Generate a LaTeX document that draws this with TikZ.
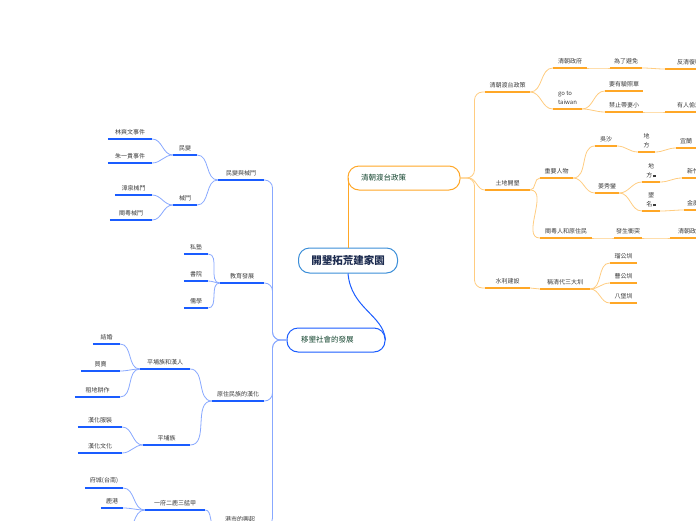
\documentclass[tikz,border=0pt]{standalone}
\usepackage{fontspec}
\setmainfont{Noto Sans CJK TC}
\usepackage{tikz}
\usetikzlibrary{calc}
\definecolor{MapOrange}{HTML}{FFA726}
\definecolor{MapOrangeSoft}{HTML}{FFCC80}
\definecolor{MapBlue}{HTML}{1A5CFF}
\definecolor{MapBlueSoft}{HTML}{88A8FF}
\definecolor{MapRoot}{HTML}{3B8ED8}
\definecolor{MapInk}{HTML}{3A3A3A}
\definecolor{MapGreen}{HTML}{14452F}
\definecolor{MapNavy}{HTML}{1C2B4F}
\tikzset{
  rootbox/.style={draw=MapRoot,line width=1pt,fill=white,rounded corners=11pt,
        minimum width=99pt,minimum height=25pt,text=MapNavy,
        font=\fontsize{10.5}{12}\selectfont\bfseries},
  mainbox/.style={fill=white,line width=1pt,rounded corners=11pt,minimum height=24pt,
        align=left,inner xsep=13pt,text=MapGreen,font=\fontsize{7.5}{9}\selectfont},
  topic/.style={anchor=south,inner xsep=0pt,inner ysep=4pt,align=center,
        text=MapInk,font=\fontsize{6}{9}\selectfont},
  oline/.style={draw=MapOrange,line width=1.6pt},
  bline/.style={draw=MapBlue,line width=1.6pt},
  olink/.style={draw=MapOrangeSoft,line width=0.8pt},
  blink/.style={draw=MapBlueSoft,line width=0.8pt},
  rcurve/.style={out=0,in=180},
  lcurve/.style={out=180,in=0}
}
\newcommand{\noteicon}{\,\rule{2.4pt}{2.4pt}}

\begin{document}
\begin{tikzpicture}[x=1pt,y=-1pt]
  \clip (0,0) rectangle (696,520);
  \node[rootbox] (root) at (348,260.5) {開墾拓荒建家園};
  \node[mainbox,draw=MapOrange,text width=86pt] (qing) at (404,178) {清朝渡台政策};
  \node[mainbox,draw=MapBlue,text width=70pt,inner xsep=14pt] (yk) at (336,340) {移墾社會的發展};

  % right side
  \node[topic,minimum width=45pt] (qzc) at (507.5,92) {清朝渡台政策};
  \node[topic,minimum width=45pt] (tdk) at (507.5,190) {土地開墾};
  \node[topic,minimum width=45pt] (slj) at (507.5,288) {水利建設};
  \node[topic,minimum width=34pt] (qzf) at (570,68) {清朝政府};
  \node[topic,minimum width=29pt,align=left] (gtt) at (567.5,109) {go to\\taiwan};
  \node[topic,minimum width=32pt] (wlbm) at (626,68) {為了避免};
  \node[topic,minimum width=48pt] (fqfm) at (689,69) {反清復明};
  \node[topic,minimum width=38pt] (yyzd) at (624,91) {要有驗照單};
  \node[topic,minimum width=38pt] (jzdq) at (624,112) {禁止帶妻小};
  \node[topic,minimum width=48pt] (yrtd) at (689,112) {有人偷渡};
  \node[topic,minimum width=33pt] (zyrw) at (556.5,178) {重要人物};
  \node[topic,minimum width=52pt] (myr) at (566,238) {閩粵人和原住民};
  \node[topic,minimum width=22pt] (ws) at (606,146) {吳沙};
  \node[topic,minimum width=24pt] (jxl) at (607,193) {姜秀鑾};
  \node[topic,minimum width=17pt] (df1) at (646.5,152) {地\\方};
  \node[topic,minimum width=20pt] (yl) at (686,148) {宜蘭};
  \node[topic,minimum width=18pt] (df2) at (651,182) {地\\方\noteicon};
  \node[topic,minimum width=22pt] (xz) at (693,178) {新竹};
  \node[topic,minimum width=18pt] (km) at (651,211) {墾\\名\noteicon};
  \node[topic,minimum width=24pt] (jgf) at (696,210) {金廣福};
  \node[topic,minimum width=28pt] (fsct) at (628,238) {發生衝突};
  \node[topic,minimum width=40pt] (qzf2) at (690,238) {清朝政府};
  \node[topic,minimum width=50pt] (cqd) at (565,289) {稱清代三大圳};
  \node[topic,minimum width=27pt] (lgz) at (623.5,263) {瑠公圳};
  \node[topic,minimum width=27pt] (cgz) at (623.5,283) {曹公圳};
  \node[topic,minimum width=27pt] (bbz) at (623.5,303) {八堡圳};

  % left side
  \node[topic,minimum width=46pt] (mbxd) at (241,180) {民變與械鬥};
  \node[topic,minimum width=44pt] (jyfz) at (242,283) {教育發展};
  \node[topic,minimum width=52pt] (yzmh) at (238,401) {原住民族的漢化};
  \node[topic,minimum width=48pt] (gsxq) at (240,526) {港市的興起};
  \node[topic,minimum width=24pt] (mb) at (185,155) {民變};
  \node[topic,minimum width=24pt] (xd) at (185,205) {械鬥};
  \node[topic,minimum width=44pt] (lsw) at (130,139) {林爽文事件};
  \node[topic,minimum width=44pt] (zyg) at (130,163) {朱一貴事件};
  \node[topic,minimum width=37pt] (zqxd) at (133.5,195) {漳泉械鬥};
  \node[topic,minimum width=42pt] (myxd) at (131,220) {閩粵械鬥};
  \node[topic,minimum width=24pt] (ss) at (196,254) {私塾};
  \node[topic,minimum width=24pt] (sy) at (196,281) {書院};
  \node[topic,minimum width=24pt] (rx) at (196,308) {儒學};
  \node[topic,minimum width=50pt] (pphr) at (165,369) {平埔族和漢人};
  \node[topic,minimum width=47pt] (ppz) at (166.5,445) {平埔族};
  \node[topic,minimum width=27pt] (jh) at (106.5,344) {結婚};
  \node[topic,minimum width=39pt] (mm) at (100.5,371) {買賣};
  \node[topic,minimum width=45pt] (zdgz) at (97.5,397) {租地耕作};
  \node[topic,minimum width=44pt] (hhfz) at (100,427) {漢化服裝};
  \node[topic,minimum width=44pt] (hhwh) at (100,453) {漢化文化};
  \node[topic,minimum width=60pt] (yfer) at (175,510) {一府二鹿三艋甲};
  \node[topic,minimum width=38pt] (fc) at (104,488) {府城(台南)};
  \node[topic,minimum width=22pt] (lg) at (112,508) {鹿港};
  \node[topic,minimum width=45pt] (mj) at (100,534) {艋舺(台北萬華)};

  \draw[draw=MapOrange,line width=1pt] (root.north) -- (root.north |- qing.center);
  \draw[draw=MapBlue,line width=1pt] (root.south) .. controls +(3,35) and +(-2,-25) .. (yk.east);

  \foreach \b in {qzc,slj}
    \draw[olink,rounded corners=8pt] (qing.east) -- ++(14,0) |- (\b.south west);
  \draw[olink] (qing.east) -- ++(8,0) to[rcurve] (tdk.south west);
  \foreach \a/\b in {qzc/qzf,qzc/gtt,qzf/wlbm,wlbm/fqfm,gtt/yyzd,gtt/jzdq,jzdq/yrtd,
                     tdk/zyrw,tdk/myr,zyrw/ws,zyrw/jxl,ws/df1,df1/yl,jxl/df2,jxl/km,
                     df2/xz,km/jgf,myr/fsct,fsct/qzf2,slj/cqd,cqd/lgz,cqd/cgz,cqd/bbz}
    \draw[olink] (\a.south east) to[rcurve] (\b.south west);

  \foreach \b in {mbxd,jyfz,yzmh,gsxq}
    \draw[blink,rounded corners=8pt] (yk.west) -- ++(-14,0) |- (\b.south east);
  \foreach \a/\b in {mbxd/mb,mbxd/xd,mb/lsw,mb/zyg,xd/zqxd,xd/myxd,jyfz/ss,jyfz/sy,
                     jyfz/rx,yzmh/pphr,yzmh/ppz,pphr/jh,pphr/mm,pphr/zdgz,ppz/hhfz,
                     ppz/hhwh,gsxq/yfer,yfer/fc,yfer/lg,yfer/mj}
    \draw[blink] (\a.south west) to[lcurve] (\b.south east);

  \foreach \n in {qzc,tdk,slj,qzf,gtt,wlbm,fqfm,yyzd,jzdq,yrtd,zyrw,myr,ws,jxl,
                  df1,yl,df2,xz,km,jgf,fsct,qzf2,cqd,lgz,cgz,bbz}
    \draw[oline] (\n.south west) -- (\n.south east);
  \foreach \n in {mbxd,jyfz,yzmh,gsxq,mb,xd,lsw,zyg,zqxd,myxd,ss,sy,rx,pphr,ppz,
                  jh,mm,zdgz,hhfz,hhwh,yfer,fc,lg,mj}
    \draw[bline] (\n.south west) -- (\n.south east);
\end{tikzpicture}
\end{document}
